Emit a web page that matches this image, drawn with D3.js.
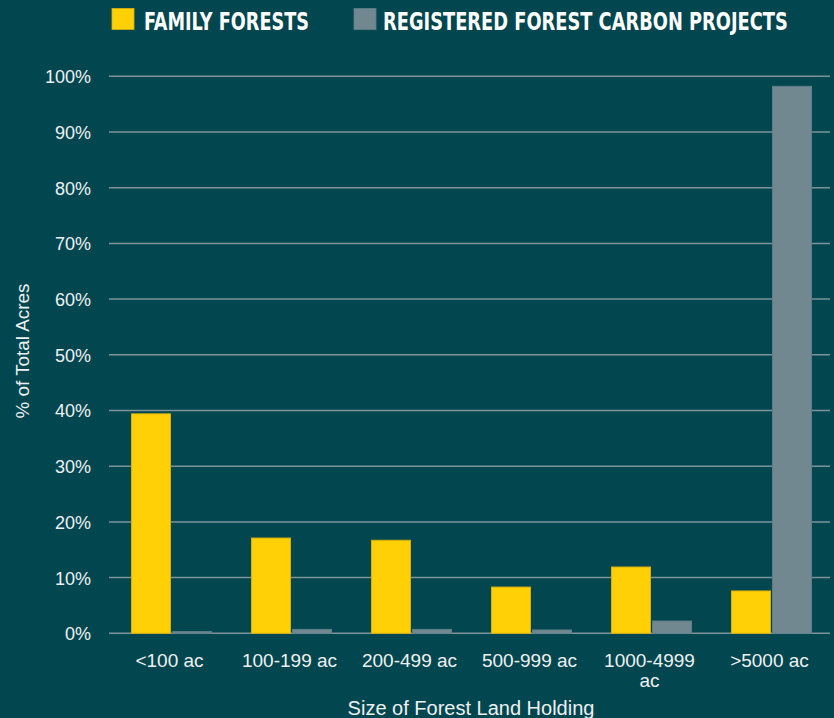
<!DOCTYPE html>
<html><head><meta charset="utf-8">
<script src="https://cdn.jsdelivr.net/npm/d3@7"></script>
<style>html,body{margin:0;padding:0;background:#02464f;}svg{display:block;}</style>
</head><body>
<svg id="c" width="834" height="718"></svg>
<script>
const categories = ["<100 ac", "100-199 ac", "200-499 ac", "500-999 ac", "1000-4999 ac", ">5000 ac"];
const seriesNames = ["FAMILY FORESTS", "REGISTERED FOREST CARBON PROJECTS"];
const familyForests = [39.4, 17.1, 16.7, 8.3, 11.9, 7.6];
const carbonProjects = [0.3, 0.7, 0.7, 0.6, 2.2, 98.2];
const yTicks = [0, 10, 20, 30, 40, 50, 60, 70, 80, 90, 100];
const colors = ["#FFD006", "#718891"];
const strokes = ["#d9b10e", "#5f8089"];

const FONT = "'Liberation Sans', Arial, sans-serif";
const TXT = "#eef1f2";
const svg = d3.select("#c");
const W = 834, H = 718;
svg.append("rect").attr("width", W).attr("height", H).attr("fill", "#02464f");

const x = d3.scaleBand().domain(categories).range([111.5, 831.5]).paddingInner(0).paddingOuter(0);
const x1 = d3.scaleBand().domain([0, 1]).range([0, 80]).paddingInner(0.05);
const y = d3.scaleLinear().domain([0, 100]).range([633.3, 76.3]);

// grid
svg.append("g").selectAll("line").data(yTicks).join("line")
  .attr("x1", 109).attr("x2", 830)
  .attr("y1", d => y(d)).attr("y2", d => y(d))
  .attr("stroke", "#7d9398").attr("stroke-width", 1.5);

// y axis labels
const yAxis = d3.axisLeft(y).tickValues(yTicks).tickFormat(d => d + "%").tickSize(0).tickPadding(0);
const ya = svg.append("g").attr("transform", "translate(91,0)").call(yAxis);
ya.select(".domain").remove();
ya.selectAll("text").attr("fill", TXT).attr("font-family", FONT)
  .attr("font-size", 18).attr("dy", "0.36em");

// bars
const data = categories.map((c, i) => ({c, vals: [familyForests[i], carbonProjects[i]]}));
const groups = svg.append("g").selectAll("g").data(data).join("g")
  .attr("transform", d => `translate(${x(d.c) + x.bandwidth()/2 - 40},0)`);
groups.selectAll("rect").data(d => d.vals.map((v, k) => ({v, k}))).join("rect")
  .attr("x", d => x1(d.k)).attr("width", x1.bandwidth())
  .attr("y", d => y(d.v)).attr("height", d => y(0) - y(d.v))
  .attr("fill", d => colors[d.k]).attr("stroke", d => strokes[d.k]).attr("stroke-width", 1);

// x labels
const xAxis = d3.axisBottom(x).tickSize(0).tickPadding(0);
const xa = svg.append("g").attr("transform", "translate(-2,0)").call(xAxis);
xa.select(".domain").remove();
xa.selectAll(".tick text").each(function(d) {
  const t = d3.select(this);
  t.text(null).attr("y", null).attr("dy", null);
  const lines = d === "1000-4999 ac" ? ["1000-4999", "ac"] : [d];
  lines.forEach((ln, i) => t.append("tspan").attr("x", 0).attr("y", 667 + i * 20).text(ln));
}).attr("fill", TXT).attr("font-family", FONT).attr("font-size", 19);

// axis titles
svg.append("text").attr("x", 471).attr("y", 715).attr("text-anchor", "middle")
  .attr("fill", TXT).attr("font-family", FONT).attr("font-size", 20)
  .text("Size of Forest Land Holding");
svg.append("text").attr("transform", "translate(29,351) rotate(-90)").attr("text-anchor", "middle")
  .attr("fill", TXT).attr("font-family", FONT).attr("font-size", 18)
  .attr("textLength", 135).attr("lengthAdjust", "spacingAndGlyphs")
  .text("% of Total Acres");

// legend
const legendPos = [{sx: 112, tx: 144, tw: 165}, {sx: 354, tx: 383, tw: 405}];
const lg = svg.append("g");
seriesNames.forEach((n, i) => {
  lg.append("rect").attr("x", legendPos[i].sx).attr("y", 8.5).attr("width", 22).attr("height", 21)
    .attr("fill", colors[i]).attr("stroke", strokes[i]).attr("stroke-width", 0.8);
  const t = lg.append("text").attr("x", 0).attr("y", 0)
    .attr("fill", "#ffffff").attr("font-family", "'DejaVu Sans Condensed', 'DejaVu Sans', sans-serif")
    .attr("font-weight", "bold").attr("font-size", 25)
    .text(n);
  const natural = t.node().getComputedTextLength();
  t.attr("transform", `translate(${legendPos[i].tx},30) scale(${legendPos[i].tw / natural},1)`);
});
</script>
</body></html>
